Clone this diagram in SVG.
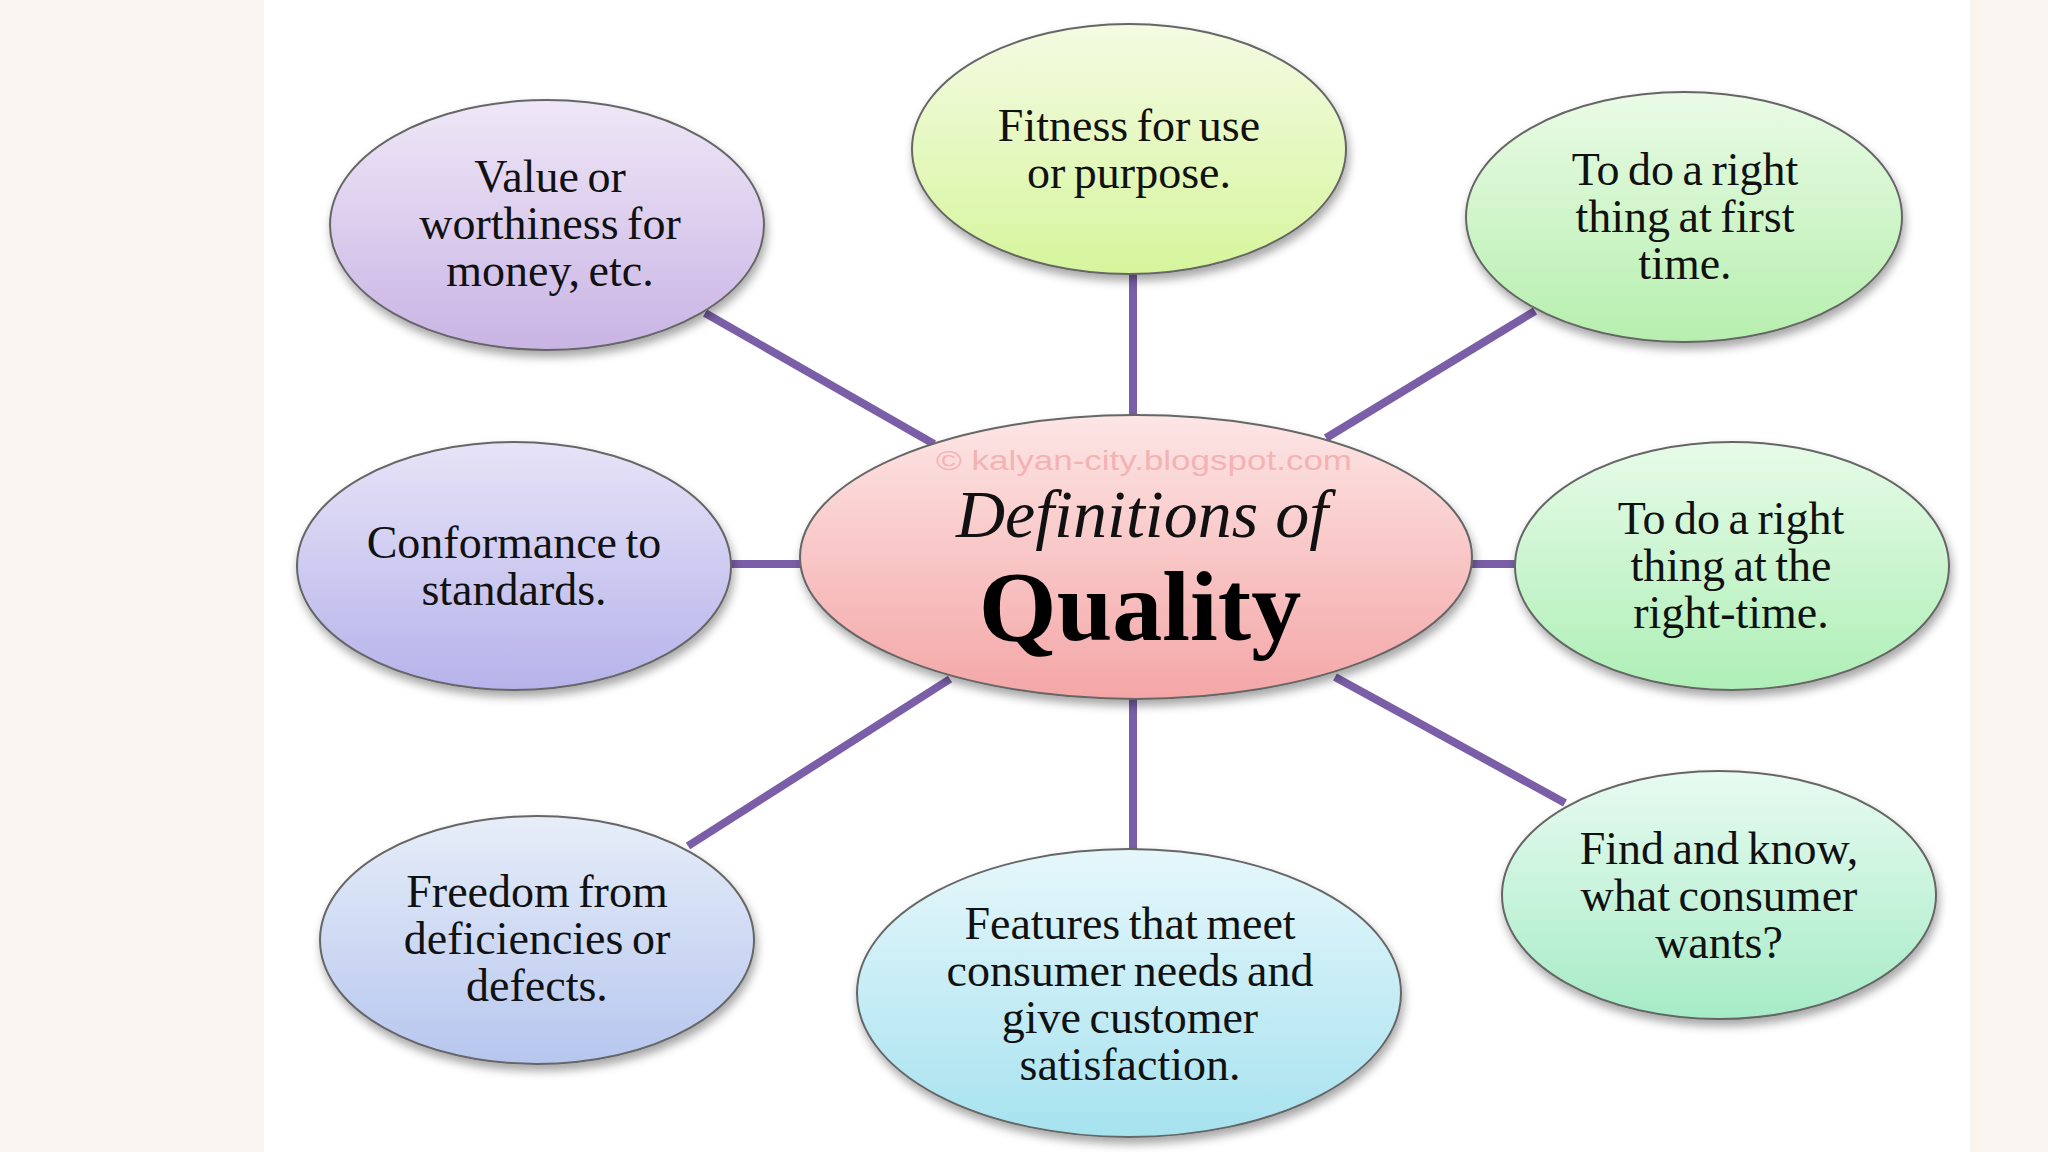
<svg xmlns="http://www.w3.org/2000/svg" width="2048" height="1152" viewBox="0 0 2048 1152">
<defs>
<style>
.bub{stroke:#666;stroke-width:2;filter:url(#sh)}
.lbl{font-family:"Liberation Serif","Times New Roman",serif;font-size:46px;fill:#111;text-anchor:middle;word-spacing:-3px}
.con{stroke:#7a5fa8;stroke-width:8;stroke-linecap:butt;fill:none}
</style>
<filter id="sh" x="-20%" y="-20%" width="140%" height="150%">
<feDropShadow dx="2" dy="6" stdDeviation="5" flood-color="#000" flood-opacity="0.35"/>
</filter>
<linearGradient id="gPurple" x1="0" y1="0" x2="0" y2="1"><stop offset="0" stop-color="#efe7f7"/><stop offset="1" stop-color="#c9b4e4"/></linearGradient>
<linearGradient id="gYellow" x1="0" y1="0" x2="0" y2="1"><stop offset="0" stop-color="#f4fbe3"/><stop offset="1" stop-color="#d6f59c"/></linearGradient>
<linearGradient id="gGreen1" x1="0" y1="0" x2="0" y2="1"><stop offset="0" stop-color="#eafbe6"/><stop offset="1" stop-color="#b6efae"/></linearGradient>
<linearGradient id="gLav" x1="0" y1="0" x2="0" y2="1"><stop offset="0" stop-color="#e7e3f7"/><stop offset="1" stop-color="#b6b3eb"/></linearGradient>
<linearGradient id="gGreen2" x1="0" y1="0" x2="0" y2="1"><stop offset="0" stop-color="#e7fbe8"/><stop offset="1" stop-color="#aeefb6"/></linearGradient>
<linearGradient id="gBlue" x1="0" y1="0" x2="0" y2="1"><stop offset="0" stop-color="#e7eef9"/><stop offset="1" stop-color="#b6c6ee"/></linearGradient>
<linearGradient id="gCyan" x1="0" y1="0" x2="0" y2="1"><stop offset="0" stop-color="#e6f7fb"/><stop offset="1" stop-color="#a6e2ef"/></linearGradient>
<linearGradient id="gMint" x1="0" y1="0" x2="0" y2="1"><stop offset="0" stop-color="#e8fbf1"/><stop offset="1" stop-color="#a6ebc6"/></linearGradient>
<linearGradient id="gPink" x1="0" y1="0" x2="0" y2="1"><stop offset="0" stop-color="#fde6e6"/><stop offset="1" stop-color="#f4a6a6"/></linearGradient>
</defs>
<rect x="0" y="0" width="2048" height="1152" fill="#faf5f0"/>
<rect x="264" y="0" width="1706" height="1152" fill="#ffffff"/>

<g id="connectors">
<line class="con" x1="705" y1="313" x2="934" y2="444"/>
<line class="con" x1="1133" y1="272" x2="1133" y2="418"/>
<line class="con" x1="1535" y1="311" x2="1326" y2="438"/>
<line class="con" x1="729" y1="564" x2="802" y2="564"/>
<line class="con" x1="1469" y1="564" x2="1517" y2="564"/>
<line class="con" x1="688" y1="846" x2="950" y2="679"/>
<line class="con" x1="1133" y1="696" x2="1133" y2="851"/>
<line class="con" x1="1335" y1="677" x2="1565" y2="803"/>
</g>

<g id="node-value">
<ellipse class="bub" cx="547" cy="225" rx="217" ry="125" fill="url(#gPurple)"/>
<text class="lbl"><tspan x="550" y="192">Value or</tspan><tspan x="550" y="239">worthiness for</tspan><tspan x="550" y="286">money, etc.</tspan></text>
</g>

<g id="node-fitness">
<ellipse class="bub" cx="1129" cy="149" rx="217" ry="125" fill="url(#gYellow)"/>
<text class="lbl"><tspan x="1129" y="141">Fitness for use</tspan><tspan x="1129" y="188">or purpose.</tspan></text>
</g>

<g id="node-firsttime">
<ellipse class="bub" cx="1684" cy="217" rx="218" ry="125" fill="url(#gGreen1)"/>
<text class="lbl"><tspan x="1685" y="185">To do a right</tspan><tspan x="1685" y="232">thing at first</tspan><tspan x="1685" y="279">time.</tspan></text>
</g>

<g id="node-conformance">
<ellipse class="bub" cx="514" cy="566" rx="217" ry="124" fill="url(#gLav)"/>
<text class="lbl"><tspan x="514" y="558">Conformance to</tspan><tspan x="514" y="605">standards.</tspan></text>
</g>

<g id="node-righttime">
<ellipse class="bub" cx="1732" cy="566" rx="217" ry="124" fill="url(#gGreen2)"/>
<text class="lbl"><tspan x="1731" y="534">To do a right</tspan><tspan x="1731" y="581">thing at the</tspan><tspan x="1731" y="628">right-time.</tspan></text>
</g>

<g id="node-freedom">
<ellipse class="bub" cx="537" cy="940" rx="217" ry="124" fill="url(#gBlue)"/>
<text class="lbl"><tspan x="537" y="907">Freedom from</tspan><tspan x="537" y="954">deficiencies or</tspan><tspan x="537" y="1001">defects.</tspan></text>
</g>

<g id="node-features">
<ellipse class="bub" cx="1129" cy="993" rx="272" ry="144" fill="url(#gCyan)"/>
<text class="lbl"><tspan x="1130" y="939">Features that meet</tspan><tspan x="1130" y="986">consumer needs and</tspan><tspan x="1130" y="1033">give customer</tspan><tspan x="1130" y="1080">satisfaction.</tspan></text>
</g>

<g id="node-find">
<ellipse class="bub" cx="1719" cy="895" rx="217" ry="124" fill="url(#gMint)"/>
<text class="lbl"><tspan x="1719" y="864">Find and know,</tspan><tspan x="1719" y="911">what consumer</tspan><tspan x="1719" y="958">wants?</tspan></text>
</g>

<g id="node-center">
<ellipse class="bub" cx="1136" cy="557" rx="336" ry="142" fill="url(#gPink)"/>
<text x="1144" y="470" font-family="Liberation Sans, Arial, sans-serif" font-size="28" fill="#f4b3b3" text-anchor="middle" textLength="416" lengthAdjust="spacingAndGlyphs">© kalyan-city.blogspot.com</text>
<text x="1142" y="537" font-family="Liberation Serif, Times New Roman, serif" font-size="68" font-style="italic" fill="#111" text-anchor="middle">Definitions of</text>
<text x="1140" y="640" font-family="Liberation Serif, Times New Roman, serif" font-size="100" font-weight="bold" fill="#000" text-anchor="middle">Quality</text>
</g>
</svg>
